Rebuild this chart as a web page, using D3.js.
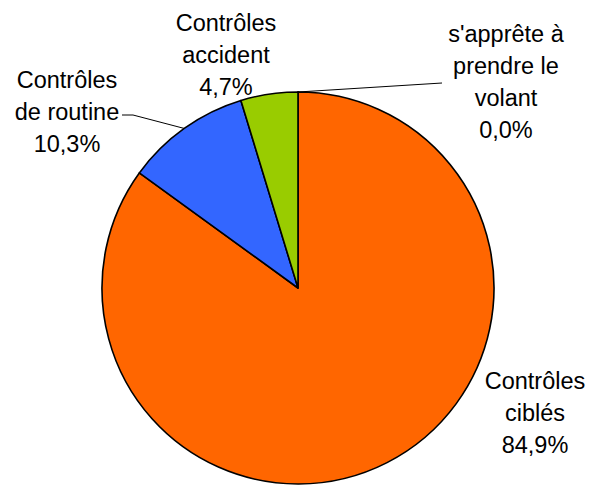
<!DOCTYPE html>
<html>
<head>
<meta charset="utf-8">
<script src="https://cdn.jsdelivr.net/npm/d3@7"></script>
<style>
  body { margin: 0; background: #fff; }
  text { font-family: "Liberation Sans", Arial, sans-serif; fill: #000; }
</style>
</head>
<body>
<div id="container"></div>
<script>
// data
var categories = ["s'apprête à prendre le volant", "Contrôles ciblés", "Contrôles de routine", "Contrôles accident"];
var values = [0.0, 84.9, 10.3, 4.7];
var labelLines = [
  ["s'apprête à", "prendre le", "volant"],
  ["Contrôles", "ciblés"],
  ["Contrôles", "de routine"],
  ["Contrôles", "accident"]
];
var colors = ["#FFFFFF", "#FF6600", "#3366FF", "#99CC00"];

// layout
var width = 591, height = 488;
var cx = 298, cy = 288, radius = 196;
var lineH = 32;
// label anchor (centre x, first baseline) per slice, relative to page
var labelPos = [
  {x: 506, y: 42, leader: [442, 83]},
  {x: 535, y: 389, leader: null},
  {x: 67, y: 88, leader: [122, 115], elbow: [133, 115]},
  {x: 226, y: 31, leader: null}
];

var fmt = function(v) { return v.toFixed(1).replace(".", ",") + "%"; };

var svg = d3.select("#container")
  .append("svg")
  .attr("width", width)
  .attr("height", height);

var pie = d3.pie().sort(null).value(function(d) { return d; });
var arcs = pie(values);
var arc = d3.arc().innerRadius(0).outerRadius(radius);

var g = svg.append("g").attr("transform", "translate(" + cx + "," + cy + ")");

g.selectAll("path")
  .data(arcs)
  .enter()
  .append("path")
  .attr("d", arc)
  .attr("fill", function(d, i) { return colors[i]; })
  .attr("stroke", "#000")
  .attr("stroke-width", 1.6)
  .attr("stroke-linejoin", "round");

// leader lines
arcs.forEach(function(d, i) {
  var p = labelPos[i];
  if (!p.leader) return;
  var a = (d.startAngle + d.endAngle) / 2;
  var ex = cx + Math.sin(a) * radius, ey = cy - Math.cos(a) * radius;
  var pts = [[ex, ey]];
  if (p.elbow) pts.push(p.elbow);
  pts.push(p.leader);
  svg.append("path")
    .attr("d", d3.line()(pts))
    .attr("fill", "none")
    .attr("stroke", "#000")
    .attr("stroke-width", 1);
});

// labels
labelPos.forEach(function(p, i) {
  var lines = labelLines[i].concat([fmt(values[i])]);
  var t = svg.append("text")
    .attr("text-anchor", "middle")
    .style("font-size", "23.5px");
  lines.forEach(function(s, j) {
    t.append("tspan")
      .attr("x", p.x)
      .attr("y", p.y + j * lineH)
      .text(s);
  });
});
</script>
</body>
</html>
